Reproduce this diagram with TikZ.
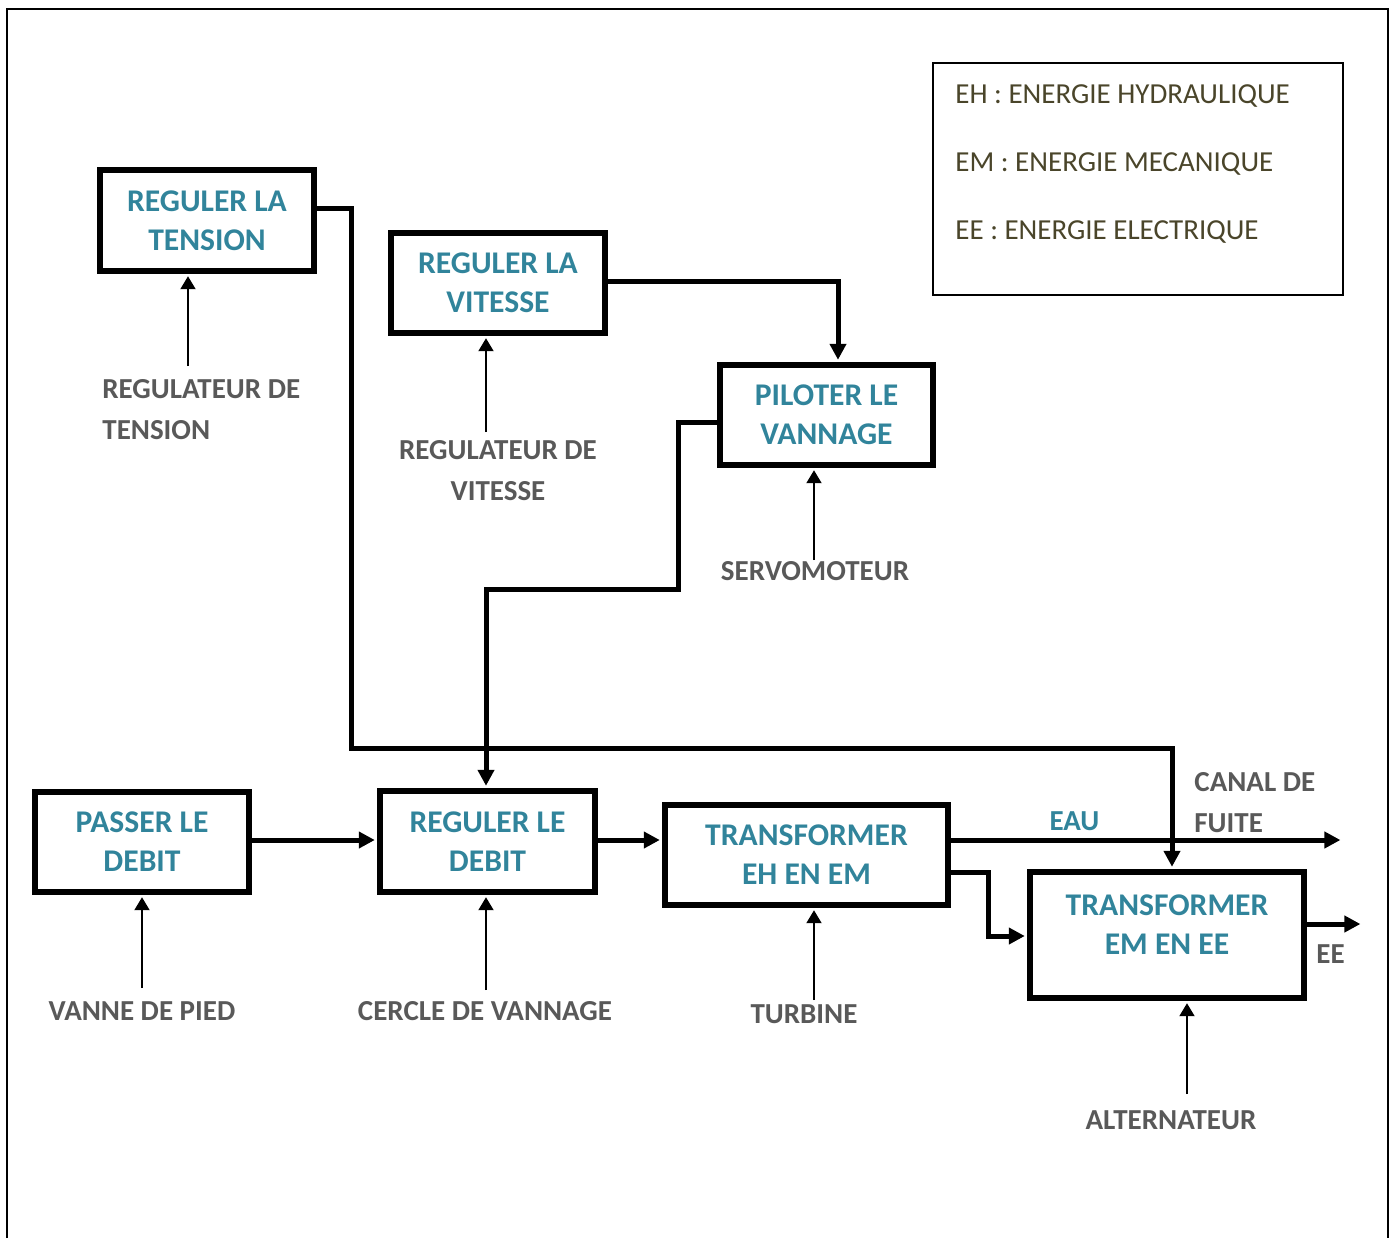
\documentclass[tikz,border=0pt]{standalone}
\usepackage{fontspec}
\setmainfont{Carlito}
\usetikzlibrary{arrows.meta}
\definecolor{titleteal}{HTML}{31849B}
\definecolor{labelgray}{HTML}{595959}
\definecolor{legendtext}{HTML}{4A452A}
\begin{document}
\begin{tikzpicture}[x=0.5pt,y=-0.5pt,
  fnbox/.style={draw, line width=2.6pt, align=center, inner sep=0pt, text=titleteal,
    text depth=-2pt, font=\fontsize{15.8pt}{19.5pt}\selectfont\bfseries},
  tag/.style={inner sep=0pt, text=labelgray,
    font=\fontsize{14.5pt}{20.5pt}\selectfont\bfseries},
  flow/.style={line width=2.5pt, line join=miter},
  flowarrow/.style={flow, -{Triangle[length=8pt,width=8pt]}, shorten >=1.3pt},
  support/.style={line width=1pt, -{Triangle[length=6.5pt,width=7.5pt]}, shorten >=1.3pt},
  legendline/.style={anchor=base west, inner sep=0pt, text=legendtext,
    font=\fontsize{14.5pt}{17pt}\selectfont}
]
\useasboundingbox (0,0) rectangle (1393,1238);

% outer frame, open at the bottom
\draw[line width=1.1pt] (7,1238) -- (7,9) -- (1388,9) -- (1388,1238);

% legend
\node[draw, line width=1.1pt, minimum width=205pt, minimum height=116pt, inner sep=0pt]
  (legend) at (1138,179) {};
\node[legendline] (lgeh) at (955,103) {EH : ENERGIE HYDRAULIQUE};
\node[legendline] (lgem) at (955,171) {EM : ENERGIE MECANIQUE};
\node[legendline] (lgee) at (955,239) {EE : ENERGIE ELECTRIQUE};

% function blocks
\node[fnbox, minimum width=107pt, minimum height=50.5pt] (tens) at (207,220.5) {REGULER LA\\TENSION};
\node[fnbox, minimum width=107pt, minimum height=50pt] (vit) at (498,283) {REGULER LA\\VITESSE};
\node[fnbox, minimum width=106.5pt, minimum height=50pt] (pil) at (826.5,415) {PILOTER LE\\VANNAGE};
\node[fnbox, minimum width=107pt, minimum height=50pt] (pas) at (142,842) {PASSER LE\\DEBIT};
\node[fnbox, minimum width=107.5pt, minimum height=50.5pt] (rdeb) at (487.5,841.5) {REGULER LE\\DEBIT};
\node[fnbox, minimum width=141.5pt, minimum height=50pt] (teh) at (806.5,855) {TRANSFORMER\\EH EN EM};
\node[fnbox, minimum width=137pt, minimum height=63pt, text depth=10pt] (temee) at (1167,935) {TRANSFORMER\\EM EN EE};

% support labels
\node[tag, align=left, anchor=north west] (regt) at (102,379) {REGULATEUR DE\\TENSION};
\node[tag, align=center, anchor=north] (regv) at (498,440) {REGULATEUR DE\\VITESSE};
\node[tag, anchor=base] (servo) at (815,580) {SERVOMOTEUR};
\node[tag, anchor=base] (vanne) at (142,1020) {VANNE DE PIED};
\node[tag, anchor=base] (cercle) at (485,1020) {CERCLE DE VANNAGE};
\node[tag, anchor=base] (turb) at (804,1023) {TURBINE};
\node[tag, anchor=base] (alt) at (1171,1129) {ALTERNATEUR};
\node[tag, align=left, anchor=north west] (canal) at (1194,772) {CANAL DE\\FUITE};
\node[tag, anchor=base] (eelab) at (1330.5,963) {EE};
\node[tag, anchor=base, text=titleteal] (eau) at (1074.5,830) {EAU};

% free ends of the support arrows
\coordinate (st) at (188,366);
\coordinate (sv) at (486,432);
\coordinate (ss) at (814,560);
\coordinate (sp) at (142,988);
\coordinate (sc) at (486,990);
\coordinate (su) at (814,1000);
\coordinate (sa) at (1187,1094);

\draw[support] (st) -- (st |- tens.south);
\draw[support] (sv) -- (sv |- vit.south);
\draw[support] (ss) -- (ss |- pil.south);
\draw[support] (sp) -- (sp |- pas.south);
\draw[support] (sc) -- (sc |- rdeb.south);
\draw[support] (su) -- (su |- teh.south);
\draw[support] (sa) -- (sa |- temee.south);

% routing points of the main connectors
\coordinate (k1) at (351,208);
\coordinate (k2) at (1172,748);
\coordinate (k3) at (838,281);
\coordinate (k4) at (678,422);
\coordinate (k5) at (486,589);
\coordinate (yflow) at (0,840);
\coordinate (eauend) at (1343,840);
\coordinate (k6) at (988,872);
\coordinate (k7) at (988,936);
\coordinate (eeend) at (1363,924);

% voltage regulation loop
\draw[flowarrow] (tens.east |- k1) -- (k1) |- (k2) -- (k2 |- temee.north);
% speed regulation to gate control
\draw[flowarrow] (vit.east |- k3) -- (k3) -- (k3 |- pil.north);
% gate control to flow regulation
\draw[flowarrow] (pil.west |- k4) -- (k4) |- (k5) -- (k5 |- rdeb.north);
% main energy chain
\draw[flowarrow] (pas.east |- yflow) -- (rdeb.west |- yflow);
\draw[flowarrow] (rdeb.east |- yflow) -- (teh.west |- yflow);
\draw[flowarrow] (teh.east |- eauend) -- (eauend);
\draw[flowarrow] (teh.east |- k6) -- (k6) -- (k7) -- (temee.west |- k7);
\draw[flowarrow] (temee.east |- eeend) -- (eeend);
\end{tikzpicture}
\end{document}
